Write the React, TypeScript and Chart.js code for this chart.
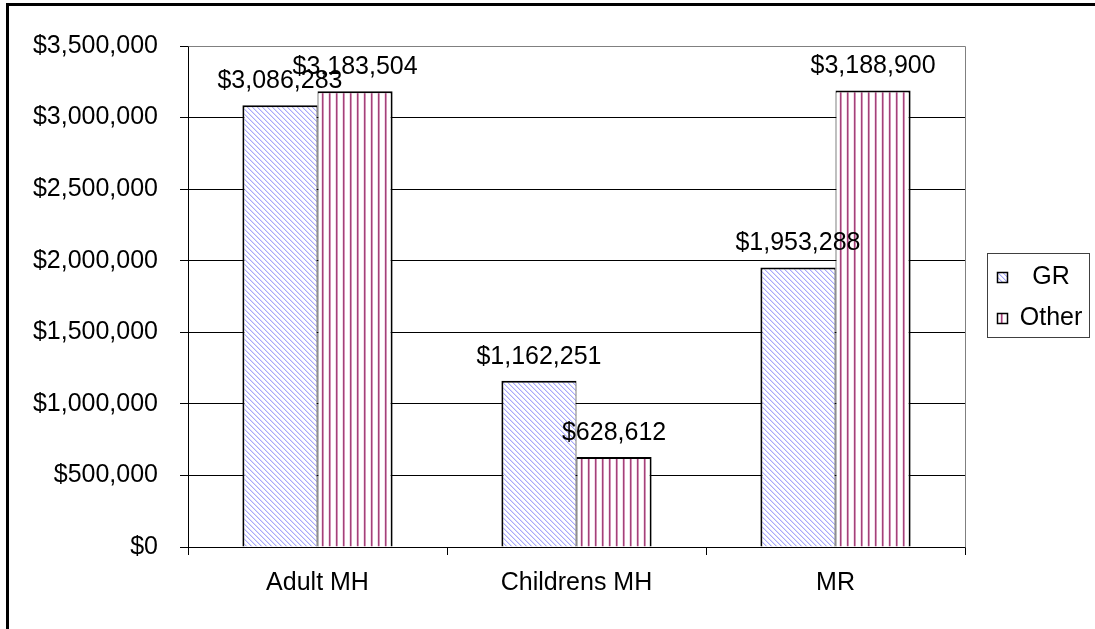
import React, { useEffect, useRef } from "react";
import { Chart, registerables } from "chart.js";

Chart.register(...registerables);

const categories = ["Adult MH", "Childrens MH", "MR"];
const grValues = [3086283, 1162251, 1953288];
const otherValues = [3183504, 628612, 3188900];
const seriesNames = ["GR", "Other"];
const yMin = 0;
const yMax = 3500000;
const yStep = 500000;

const FONT = "'Liberation Sans', Arial, sans-serif";

function money(v: number) {
  return "$" + Math.round(v).toLocaleString("en-US");
}

function makeDiagPattern(ctx: CanvasRenderingContext2D) {
  const c = document.createElement("canvas");
  const n = 5;
  c.width = n;
  c.height = n;
  const g = c.getContext("2d")!;
  g.fillStyle = "#ffffff";
  g.fillRect(0, 0, n, n);
  for (let i = 0; i < n; i++) {
    g.fillStyle = "#a9a9fb";
    g.fillRect(i, i, 1, 1);
    g.fillStyle = "#dcdcfd";
    g.fillRect((i + 1) % n, i, 1, 1);
  }
  return ctx.createPattern(c, "repeat")!;
}

function makeVertPattern(ctx: CanvasRenderingContext2D) {
  const c = document.createElement("canvas");
  const w = 7;
  c.width = w;
  c.height = 4;
  const g = c.getContext("2d")!;
  g.fillStyle = "#ffffff";
  g.fillRect(0, 0, w, 4);
  g.fillStyle = "#a3427a";
  g.fillRect(0, 0, 1, 4);
  g.fillStyle = "#d293b6";
  g.fillRect(1, 0, 1, 4);
  g.fillStyle = "#f3dde9";
  g.fillRect(6, 0, 1, 4);
  return ctx.createPattern(c, "repeat")!;
}

export default function App() {
  const ref = useRef<HTMLCanvasElement | null>(null);

  useEffect(() => {
    const canvas = ref.current;
    if (!canvas) return;
    const ctx = canvas.getContext("2d")!;
    const grPat = makeDiagPattern(ctx);
    const otherPat = makeVertPattern(ctx);

    const plotBorder = {
      id: "plotBorder",
      beforeDatasetsDraw(chart: any) {
        const { ctx: c, chartArea: a } = chart;
        c.save();
        c.strokeStyle = "#808080";
        c.lineWidth = 1;
        c.beginPath();
        c.moveTo(Math.round(a.left) + 0.5, Math.round(a.top) + 0.5);
        c.lineTo(Math.round(a.right) + 0.5, Math.round(a.top) + 0.5);
        c.lineTo(Math.round(a.right) + 0.5, Math.round(a.bottom) + 0.5);
        c.stroke();
        c.restore();
      },
    };

    const valueLabels = {
      id: "valueLabels",
      afterDatasetsDraw(chart: any) {
        const c = chart.ctx;
        c.save();
        c.font = `25px ${FONT}`;
        c.fillStyle = "#000";
        c.textAlign = "center";
        c.textBaseline = "middle";
        chart.data.datasets.forEach((ds: any, di: number) => {
          const meta = chart.getDatasetMeta(di);
          meta.data.forEach((el: any, i: number) => {
            c.fillText(money(ds.data[i]), el.x, el.y - 24);
          });
        });
        c.restore();
      },
    };

    const customLegend = {
      id: "customLegend",
      afterDraw(chart: any) {
        const c = chart.ctx;
        const bx = 987, by = 253, bw = 102, bh = 84;
        c.save();
        c.fillStyle = "#fff";
        c.fillRect(bx, by, bw, bh);
        c.strokeStyle = "#404040";
        c.lineWidth = 1;
        c.strokeRect(bx + 0.5, by + 0.5, bw, bh);
        const pats = [grPat, otherPat];
        const rowY = [277, 318];
        c.font = `25px ${FONT}`;
        c.textAlign = "center";
        c.textBaseline = "middle";
        seriesNames.forEach((name, i) => {
          const sy = rowY[i] - 5;
          c.fillStyle = pats[i];
          c.fillRect(997, sy, 11, 11);
          c.strokeStyle = "#000";
          c.lineWidth = 1.5;
          c.strokeRect(997.5, sy + 0.5, 10, 10);
          c.fillStyle = "#000";
          c.fillText(name, 1051, rowY[i]);
        });
        c.restore();
      },
    };

    const chart = new Chart(canvas, {
      type: "bar",
      data: {
        labels: categories,
        datasets: [
          {
            label: seriesNames[0],
            data: grValues,
            backgroundColor: grPat as any,
            borderColor: "#000",
            borderWidth: { left: 2, top: 2, right: 1, bottom: 0 } as any,
            borderSkipped: false,
            categoryPercentage: 0.58,
            barPercentage: 1,
          },
          {
            label: seriesNames[1],
            data: otherValues,
            backgroundColor: otherPat as any,
            borderColor: "#000",
            borderWidth: { left: 1, top: 2, right: 2, bottom: 0 } as any,
            borderSkipped: false,
            categoryPercentage: 0.58,
            barPercentage: 1,
          },
        ],
      },
      options: {
        responsive: false,
        animation: false,
        devicePixelRatio: 1,
        layout: { padding: { left: 0, right: 130, top: 46, bottom: 0 } },
        plugins: {
          legend: { display: false },
          tooltip: { enabled: false },
        },
        scales: {
          x: {
            grid: {
              display: true,
              drawOnChartArea: false,
              drawTicks: true,
              tickLength: 8,
              color: "#000",
              offset: true,
            },
            border: { display: true, color: "#000", width: 1 },
            ticks: {
              color: "#000",
              font: { family: FONT, size: 25 },
              padding: 13,
              maxRotation: 0,
            },
            afterFit(scale: any) {
              scale.height = 82;
            },
          },
          y: {
            min: yMin,
            max: yMax,
            grid: {
              color: "#000",
              tickLength: 8,
              drawTicks: true,
            },
            border: { display: true, color: "#000", width: 1 },
            ticks: {
              stepSize: yStep,
              color: "#000",
              font: { family: FONT, size: 25 },
              padding: 22,
              callback: (v: any) => money(Number(v)),
            },
            afterFit(scale: any) {
              scale.width = 188;
            },
          },
        },
      },
      plugins: [plotBorder, valueLabels, customLegend],
    });

    return () => chart.destroy();
  }, []);

  return (
    <div
      style={{
        position: "fixed",
        left: 0,
        top: 0,
        width: 1095,
        height: 629,
        overflow: "hidden",
        background: "#fff",
      }}
    >
      <div
        style={{
          position: "absolute",
          left: 6,
          top: 3,
          width: 2000,
          height: 2000,
          border: "3px solid #000",
          boxSizing: "border-box",
        }}
      />
      <canvas
        ref={ref}
        width={1095}
        height={629}
        style={{ position: "absolute", left: 0, top: 0, display: "block" }}
      />
    </div>
  );
}
